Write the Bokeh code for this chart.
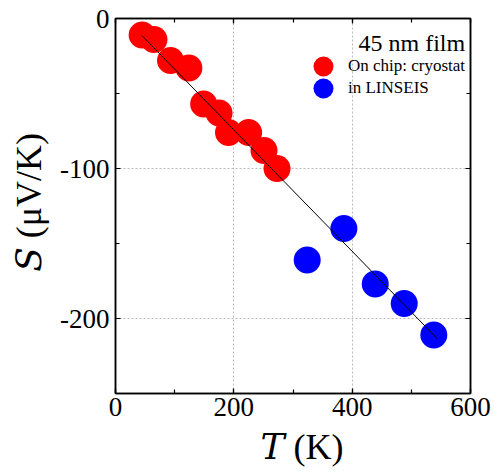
from bokeh.plotting import figure
from bokeh.models import (LinearAxis, Legend, LegendItem, Label, Range1d,
                          SingleIntervalTicker, PrintfTickFormatter, CustomJSTickFormatter)
from bokeh.embed import file_html
from bokeh.resources import INLINE

# ---- data ----
red_T = [45, 65, 93, 124, 149, 175, 191, 225, 251, 273]
red_S = [-11, -14, -28, -33, -57, -63, -76, -76, -88, -100]
blue_T = [324, 386, 439, 488, 538]
blue_S = [-161, -140, -177, -190, -211]
fit_T = [45, 544]
fit_S = [-11.5, -213.5]
x_ticks_interval = 200
y_ticks_interval = 100
title_text = "45 nm film"
legend_labels = ["On chip: cryostat", "in LINSEIS"]
x_title = "\u2002\U0001D447 (K)"        # italic T
y_title = "\u2009\U0001D446 (μV/K)"     # italic S

FONT = "Liberation Serif"
TITLE_FONT = "'Liberation Serif', 'DejaVu Serif', serif"

p = figure(width=494, height=475, x_range=Range1d(0, 600), y_range=Range1d(-250, 0),
           output_backend="svg", toolbar_location=None,
           min_border_left=115, min_border_right=24, min_border_top=18, min_border_bottom=82,
           x_axis_location=None, y_axis_location=None)
p.outline_line_color = "black"
p.outline_line_width = 1.5
p.background_fill_color = "white"
p.border_fill_color = "white"

xt = SingleIntervalTicker(interval=x_ticks_interval, num_minor_ticks=2)
yt = SingleIntervalTicker(interval=y_ticks_interval, num_minor_ticks=2)


def style(ax, labels=True):
    ax.axis_line_color = "black"
    ax.axis_line_width = 1.5
    ax.major_tick_in = 5
    ax.major_tick_out = 0
    ax.minor_tick_in = 4
    ax.minor_tick_out = 0
    ax.major_tick_line_width = 1.2
    ax.minor_tick_line_width = 1.2
    ax.major_label_text_font = FONT
    ax.major_label_text_color = "black"
    ax.axis_label_text_font = TITLE_FONT
    ax.axis_label_text_font_style = "normal"
    ax.axis_label_text_font_size = "36px"
    ax.axis_label_text_color = "black"
    if labels:
        ax.major_label_text_font_size = "27px"
        ax.formatter = PrintfTickFormatter(format="%d")
    else:
        ax.formatter = CustomJSTickFormatter(code="return ''")
        ax.major_label_standoff = 0


xb = LinearAxis(ticker=xt, axis_label=x_title)
style(xb)
xb.major_label_standoff = 4
xb.axis_label_standoff = 8
p.add_layout(xb, "below")
yl = LinearAxis(ticker=yt, axis_label=y_title)
style(yl)
yl.major_label_standoff = 6
yl.axis_label_standoff = 8
p.add_layout(yl, "left")
xa = LinearAxis(ticker=xt)
style(xa, labels=False)
p.add_layout(xa, "above")
yr = LinearAxis(ticker=yt)
style(yr, labels=False)
p.add_layout(yr, "right")

p.xgrid.ticker = xt
p.ygrid.ticker = yt
for g in (p.xgrid, p.ygrid):
    g.grid_line_color = "#bbbbbb"
    g.grid_line_dash = "2 2"
    g.grid_line_width = 1

r_red = p.scatter(red_T, red_S, size=27, color="#ff0000", line_color=None)
r_blue = p.scatter(blue_T, blue_S, size=27, color="#0000ff", line_color=None)
p.line(fit_T, fit_S, line_color="black", line_width=1)

# legends (one per entry to control spacing)
for r, lab, ypos in ((r_red, legend_labels[0], 302), (r_blue, legend_labels[1], 280)):
    leg = Legend(items=[LegendItem(label=lab, renderers=[r])], location=(183, ypos),
                 glyph_width=50, glyph_height=50, label_standoff=0, padding=0, margin=0,
                 spacing=0, border_line_alpha=0, background_fill_alpha=0,
                 label_text_font=FONT, label_text_font_size="17px",
                 label_text_color="black")
    p.add_layout(leg, "center")

p.add_layout(Label(x=591, y=-16, text=title_text, text_align="right",
                   text_baseline="alphabetic", text_font=FONT, text_font_size="24px",
                   text_color="black"))

open("out.html", "w").write(file_html(p, INLINE))
